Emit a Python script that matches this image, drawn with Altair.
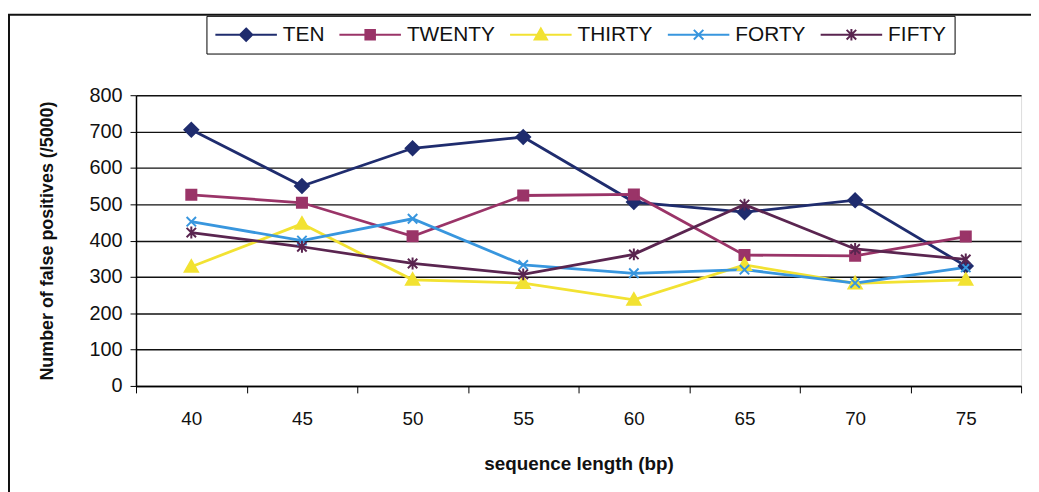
import altair as alt
import pandas as pd

# ---- data ----
lengths = [40, 45, 50, 55, 60, 65, 70, 75]
series_names = ["TEN", "TWENTY", "THIRTY", "FORTY", "FIFTY"]
ten = [705, 550, 654, 685, 506, 478, 511, 330]
twenty = [526, 504, 412, 524, 527, 360, 358, 411]
thirty = [328, 446, 292, 283, 237, 333, 282, 292]
forty = [452, 400, 460, 333, 310, 320, 283, 326]
fifty = [422, 383, 337, 307, 362, 499, 377, 348]
y_ticks = [0, 100, 200, 300, 400, 500, 600, 700, 800]

series_colors = ["#1f2c6e", "#9a3468", "#f2e232", "#3896de", "#5a2550"]

# plot markers (no line)
marker_paths = [
    "M0,-1.1L1.1,0L0,1.1L-1.1,0Z",
    "M-0.8,-0.8L0.8,-0.8L0.8,0.8L-0.8,0.8Z",
    "M0,-1.05L1.05,0.8L-1.05,0.8Z",
    "M-0.75,-0.75L0.75,0.75M-0.75,0.75L0.75,-0.75",
    "M-0.75,-0.75L0.75,0.75M-0.75,0.75L0.75,-0.75M0,-0.95L0,0.95",
]
# legend symbols: line with the marker in its middle (starting at the symbol slot's left edge)
LINE = "M-1,0L5.2,0"
legend_paths = [
    LINE + "M2.1,-0.62L2.72,0L2.1,0.62L1.48,0Z",
    LINE + "M1.62,-0.48L2.58,-0.48L2.58,0.48L1.62,0.48Z",
    LINE + "M2.1,-0.62L2.72,0.48L1.48,0.48Z",
    LINE + "M1.62,-0.48L2.58,0.48M1.62,0.48L2.58,-0.48",
    LINE + "M1.62,-0.48L2.58,0.48M1.62,0.48L2.58,-0.48M2.1,-0.58L2.1,0.58",
]

rows = []
for name, vals in zip(series_names, [ten, twenty, thirty, forty, fifty]):
    for L, v in zip(lengths, vals):
        rows.append({"length": L, "value": v, "series": name})
df = pd.DataFrame(rows)

PLOT_W, PLOT_H = 892, 293
half_step = (lengths[1] - lengths[0]) / 2
x_ticks = [L - half_step for L in lengths] + [lengths[-1] + half_step]
x_domain = [x_ticks[0], x_ticks[-1]]
label_shift = PLOT_W / (x_domain[1] - x_domain[0]) * half_step

FONT = "Liberation Sans, Arial, sans-serif"

x_enc = alt.X(
    "length:Q",
    scale=alt.Scale(domain=x_domain, nice=False, zero=False),
    axis=alt.Axis(
        values=x_ticks,
        labelExpr=f"datum.value < {lengths[-1]} ? format(datum.value + {half_step}, 'd') : ''",
        labelOffset=label_shift,
        labelFlush=False,
        labelOverlap=False,
        labelFont=FONT,
        labelFontSize=19,
        labelColor="#111",
        labelPadding=17,
        tickSize=7,
        tickColor="#000",
        domainColor="#000",
        domainWidth=1.5,
        grid=False,
        title="sequence length (bp)",
        titleFont=FONT,
        titleFontSize=19,
        titleFontWeight="bold",
        titleColor="#111",
        titleX=PLOT_W / 2,
        titleY=78,
        titleBaseline="middle",
        titleAlign="center",
    ),
)
y_enc = alt.Y(
    "value:Q",
    scale=alt.Scale(domain=[0, 800], nice=False),
    axis=alt.Axis(
        values=y_ticks,
        tickCount=len(y_ticks),
        labelOverlap=False,
        labelFont=FONT,
        labelFontSize=20,
        labelColor="#111",
        labelPadding=8,
        tickSize=6,
        tickColor="#000",
        domainColor="#000",
        domainWidth=1.5,
        grid=True,
        gridColor="#111",
        gridWidth=1.4,
        title="Number of false positives (/5000)",
        titleFont=FONT,
        titleFontSize=18,
        titleFontWeight="bold",
        titleColor="#111",
        titleAngle=270,
        titleX=-89,
        titleY=PLOT_H / 2,
        titleAlign="center",
        titleBaseline="middle",
    ),
)

color_scale = alt.Scale(domain=series_names, range=series_colors)

lines = alt.Chart(df).mark_line(strokeWidth=2.8).encode(
    x=x_enc,
    y=y_enc,
    color=alt.Color("series:N", scale=color_scale, legend=None),
    detail="series:N",
)

points = alt.Chart(df).mark_point(filled=True, size=160, strokeWidth=2, opacity=1).encode(
    x=x_enc,
    y=y_enc,
    fill=alt.Fill("series:N", scale=color_scale, legend=None),
    stroke=alt.Stroke("series:N", scale=color_scale, legend=None),
    shape=alt.Shape("series:N", scale=alt.Scale(domain=series_names, range=marker_paths), legend=None),
)

legend_props = dict(
    title=None,
    orient="none",
    direction="horizontal",
    gridAlign="none",
    legendX=71,
    legendY=-80,
    strokeColor="#000",
    fillColor="#fff",
    padding=8,
    symbolSize=400,
    symbolStrokeWidth=2,
    symbolOpacity=1,
    labelFont=FONT,
    labelFontSize=21,
    labelColor="#111",
    labelOffset=47,
    columnPadding=11,
)

legend_layer = alt.Chart(df).mark_point(filled=True, opacity=0).encode(
    x=x_enc,
    y=y_enc,
    fill=alt.Fill("series:N", scale=color_scale, legend=alt.Legend(**legend_props)),
    stroke=alt.Stroke("series:N", scale=color_scale, legend=alt.Legend(**legend_props)),
    shape=alt.Shape("series:N", scale=alt.Scale(domain=series_names, range=legend_paths), legend=alt.Legend(**legend_props)),
)

frame_left = alt.Chart(alt.Data(values=[{"k": 1}])).mark_rule(color="#111", strokeWidth=2).encode(
    x=alt.value(-128), y=alt.value(-81), y2=alt.value(PLOT_H + 110)
)
frame_top = alt.Chart(alt.Data(values=[{"k": 1}])).mark_rule(color="#111", strokeWidth=2).encode(
    x=alt.value(-129), x2=alt.value(PLOT_W + 12), y=alt.value(-81)
)

chart = (
    alt.layer(lines, points, legend_layer, frame_left, frame_top)
    .resolve_scale(fill="independent", stroke="independent", shape="independent")
    .properties(
        width=PLOT_W,
        height=PLOT_H,
        autosize=alt.AutoSizeParams(type="none"),
        padding={"left": 129, "top": 86, "right": 10, "bottom": 105},
    )
    .configure_view(fill="#b3b4b9", stroke="#808080", strokeWidth=1)
    .configure(background="white")
)

chart.save("out.html", embed_options={"renderer": "svg", "actions": False})
